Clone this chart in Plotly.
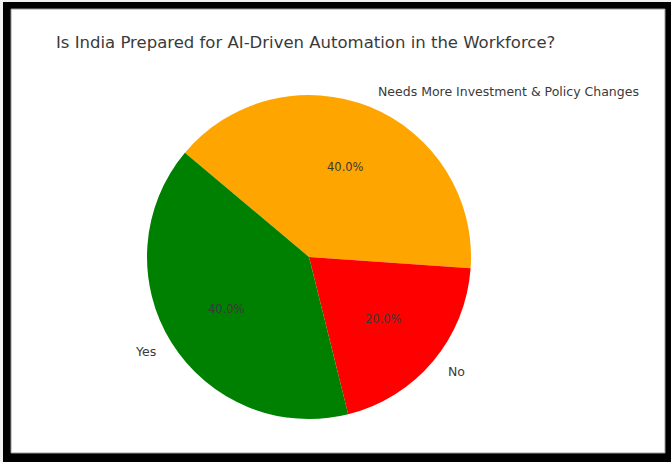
import math
import plotly.graph_objects as go

# Survey responses
labels = ["Yes", "No", "Needs More Investment & Policy Changes"]
shares = [40, 20, 40]
colors = ["#008000", "#ff0000", "#ffa500"]
title_text = "Is India Prepared for AI-Driven Automation in the Workforce?"

W, H = 671, 462
cx_px, cy_px, r_px = 309, 257, 162   # pie centre and radius in pixels
start_deg = 140                       # slices laid out counter-clockwise from here

cx, cy = cx_px / W, 1 - cy_px / H
rx, ry = r_px / W, r_px / H

# Plotly lays slices clockwise from `rotation`; feeding the categories in
# reverse order gives the counter-clockwise layout starting at start_deg.
fig = go.Figure()
fig.add_trace(go.Pie(
    labels=labels[::-1],
    values=shares[::-1],
    marker=dict(colors=colors[::-1], line=dict(width=0)),
    sort=False,
    direction="clockwise",
    rotation=90 - start_deg,
    textinfo="none",
    hoverinfo="label+percent",
    showlegend=False,
    domain=dict(x=[cx - rx, cx + rx], y=[cy - ry, cy + ry]),
))

annotations = []
total = sum(shares)
angle = start_deg
for lab, val in zip(labels, shares):
    span = 360 * val / total
    mid = math.radians(angle + span / 2)
    angle += span
    c, s = math.cos(mid), math.sin(mid)
    # outer category label
    annotations.append(dict(
        x=cx + 1.1 * rx * c, y=cy + 1.1 * ry * s,
        xref="paper", yref="paper", text=lab, showarrow=False,
        xanchor="left" if c >= 0 else "right", yanchor="middle",
        font=dict(family="DejaVu Sans", size=12.5, color="#3a3a3a"),
    ))
    # percentage inside the slice
    annotations.append(dict(
        x=cx + 0.6 * rx * c, y=cy + 0.6 * ry * s,
        xref="paper", yref="paper", text=f"{100 * val / total:.1f}%",
        showarrow=False, xanchor="center", yanchor="middle",
        font=dict(family="DejaVu Sans", size=11.5, color="#3a3a3a"),
    ))

annotations.append(dict(
    x=cx - 3 / W, y=1 - 42 / H, xref="paper", yref="paper", text=title_text,
    showarrow=False, xanchor="center", yanchor="middle",
    font=dict(family="DejaVu Sans", size=16.5, color="#3a3a3a"),
))

# black frame around a white canvas
shapes = [
    dict(type="rect", xref="paper", yref="paper", layer="below",
         x0=3 / W, x1=1, y0=0, y1=1 - 2 / H,
         fillcolor="black", line=dict(width=0)),
    dict(type="rect", xref="paper", yref="paper", layer="below",
         x0=11 / W, x1=665 / W, y0=1 - 453 / H, y1=1 - 9 / H,
         fillcolor="white", line=dict(color="#9a9a9a", width=1)),
]

fig.update_layout(
    width=W, height=H,
    margin=dict(l=0, r=0, t=0, b=0),
    paper_bgcolor="#f2f2f2",
    plot_bgcolor="white",
    annotations=annotations,
    shapes=shapes,
)

fig.write_html("out.html")
